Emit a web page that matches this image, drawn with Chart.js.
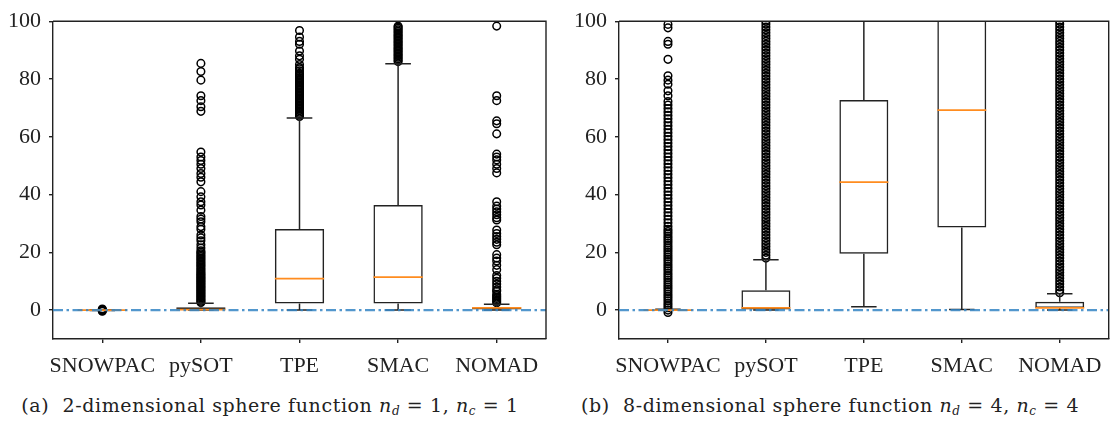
<!DOCTYPE html>
<html><head><meta charset="utf-8">
<script src="https://cdn.jsdelivr.net/npm/chart.js@4.4.1/dist/chart.umd.min.js"></script>
<style>
body{margin:0;background:#fff;width:1114px;height:425px;position:relative;overflow:hidden;font-family:"Liberation Serif",serif;}
canvas{position:absolute;top:0;}
.cap{position:absolute;top:395px;font-family:"DejaVu Serif",serif;font-size:19px;line-height:20px;letter-spacing:0.6px;color:#222;white-space:nowrap;transform:translateX(-50%);}
.cap sub{font-size:12px;vertical-align:-3px;line-height:0;}
.pre{position:absolute;left:-999px;top:0;font-family:"Liberation Serif";font-size:22px;}
</style></head><body>
<span class="pre">SNOWPAC 100</span>
<canvas id="ca" width="556" height="380" style="left:0"></canvas>
<canvas id="cb" width="548" height="380" style="left:566px"></canvas>
<div class="cap" style="left:270px">(a)&nbsp; 2-dimensional sphere function <i>n<sub>d</sub></i> = 1, <i>n<sub>c</sub></i> = 1</div>
<div class="cap" style="left:830px">(b)&nbsp; 8-dimensional sphere function <i>n<sub>d</sub></i> = 4, <i>n<sub>c</sub></i> = 4</div>
<script>
const categories = ['SNOWPAC', 'pySOT', 'TPE', 'SMAC', 'NOMAD'];
const yTicks = [0, 20, 40, 60, 80, 100];
const yMin = -10, yMax = 100;
const referenceLine = 0;

// (a) 2-dimensional sphere function
const aQ1 = [-0.1, 0, 2.3, 2.3, 0];
const aQ3 = [0.1, 1.0, 28.1, 36.4, 0.9];
const aMedian = [0, 0.2, 10.9, 11.4, 0.8];
const aWhiskLo = [-0.1, 0, 0, 0, 0];
const aWhiskHi = [0.1, 2.4, 66.5, 85.3, 2.0];
const aOutSNOWPAC = [-0.4, -0.2, 0, 0.2, 0.4];
const aOutPySOT = [2.6,3,3.4,3.8,4.2,4.6,5,5.4,5.8,6.2,6.6,7,7.4,7.8,8.2,8.6,9,9.4,9.8,10.2,10.6,11,11.4,11.8,12.2,12.6,13,13.5,14,14.5,15,15.5,16,16.5,17,17.5,18,18.5,19,19.5,20,20.5,21.5,22.6,24,25,26,28,28.9,30.6,31.5,32.4,34.6,36.4,37.5,39.2,41,44.4,46,47.3,49,50.5,51.8,53,54.7,68.8,70.4,72.5,74.2,79.6,82.6,85.4];
const aOutTPE = [67,67.5,68,68.5,69,69.5,70,70.5,71,71.5,72,72.5,73,73.5,74,74.5,75,75.5,76,76.5,77,77.5,78,78.5,79,79.5,80,80.5,81,81.5,82,82.8,83.5,84,85,86.8,88,89.7,92,93,94.5,96.8];
const aOutSMAC = [86,86.5,87,87.5,88,88.5,89,89.5,90,90.5,91,91.5,92,92.5,93,93.5,94,94.5,95,95.5,96,96.5,97,97.5,98,98.3];
const aOutNOMAD = [2.5,3,3.5,4,4.5,5,5.5,6.5,7,8,9,10,11,12,14,15.5,17,18,19.2,22.6,23.5,24.5,25.5,26.5,27.7,31.2,32,33,34,35,36,37.5,47.5,49,50.5,52,53,54,61,64.5,65.5,72.5,74.2,98.3];

// (b) 8-dimensional sphere function
const bQ1 = [0, 0, 19.5, 28.6, 0.7];
const bQ3 = [0.3, 6.9, 72.7, 130, 2.9];
const bMedian = [0, 0.8, 44.3, 69.2, 0.8];
const bWhiskLo = [0, 0, 1.2, 0.2, 0];
const bWhiskHi = [0.3, 17.4, 140, 200, 5.7];
const bOutSNOWPAC = [-0.8,0,0.8,1.6,2.4,3.2,4,4.8,5.6,6.4,7.2,8,8.8,9.6,10.4,11.2,12,12.8,13.6,14.4,15.2,16,16.8,17.6,18.4,19.2,20,20.8,21.6,22.4,23.2,24,24.8,25.6,26.4,27.2,28,29,30.2,31.4,32.6,33.8,35,36.2,37.4,38.6,39.8,41,42.2,43.4,44.6,45.8,47,48.2,49.4,50.6,51.8,53,54.2,55.4,56.6,57.8,59,60.2,61.4,62.6,63.8,65,66.2,67.4,68.6,69.8,71,72.2,74.2,75.9,78.2,79.6,81.1,86.8,92,93,97.7,98.9];
const bOutPySOT = [18,19,20,21,22,23,24,25,26,27,28,29,30,31,32,33,34,35,36,37,38,39,40,41,42,43,44,45,46,47,48,49,50,51,52,53,54,55,56,57,58,59,60,61,62,63,64,65,66,67,68,69,70,71,72,73,74,75,76,77,78,79,80,81,82,83,84,85,86,87,88,89,90,91,92,93,94,95,96,97,98,99,100];
const bOutTPE = [];
const bOutSMAC = [];
const bOutNOMAD = [6,7,8,9,10,11,12,13,14,15,16,17,18,19,20,21,22,23,24,25,26,27,28,29,30,31,32,33,34,35,36,37,38,39,40,41,42,43,44,45,46,47,48,49,50,51,52,53,54,55,56,57,58,59,60,61,62,63,64,65,66,67,68,69,70,71,72,73,74,75,76,77,78,79,80,81,82,83,84,85,86,87,88,89,90,91,92,93,94,95,96,97,98,99,100];

const INK = '#222';
Chart.defaults.font.family = '"Liberation Serif", serif';
Chart.defaults.font.size = 22;
Chart.defaults.color = INK;

const boxPlugin = {
  id: 'boxExtras',
  afterDatasetsDraw(chart, args, o) {
    const {ctx, chartArea: a, scales: {x, y}} = chart;
    const cw = x.getPixelForValue(1) - x.getPixelForValue(0);
    const seg = (x1, y1, x2, y2) => { ctx.beginPath(); ctx.moveTo(x1, y1); ctx.lineTo(x2, y2); ctx.stroke(); };
    ctx.save();
    ctx.beginPath(); ctx.rect(a.left, a.top, a.right - a.left, a.bottom - a.top); ctx.clip();
    ctx.strokeStyle = INK; ctx.lineWidth = 1.5;
    o.q1.forEach((q, i) => {
      const cx = x.getPixelForValue(i);
      const pLo = y.getPixelForValue(o.lo[i]), pHi = y.getPixelForValue(o.hi[i]);
      seg(cx, pLo, cx, y.getPixelForValue(q));
      seg(cx, y.getPixelForValue(o.q3[i]), cx, pHi);
      seg(cx - cw * 0.13, pLo, cx + cw * 0.13, pLo);
      seg(cx - cw * 0.13, pHi, cx + cw * 0.13, pHi);
    });
    ctx.strokeStyle = '#ff8c1f'; ctx.lineWidth = 1.8;
    o.med.forEach((m, i) => {
      const cx = x.getPixelForValue(i), py = y.getPixelForValue(m);
      seg(cx - cw * 0.25, py, cx + cw * 0.25, py);
    });
    ctx.strokeStyle = 'rgba(52,133,196,0.85)'; ctx.lineWidth = 2.3;
    ctx.setLineDash([10, 3.5, 2.5, 3.5]);
    const pr = y.getPixelForValue(referenceLine);
    seg(a.left, pr, a.right, pr);
    ctx.restore();
    ctx.save();
    ctx.strokeStyle = INK; ctx.lineWidth = 1.4;
    ctx.beginPath(); ctx.moveTo(a.left, a.top); ctx.lineTo(a.right, a.top); ctx.lineTo(a.right, a.bottom); ctx.stroke();
    ctx.restore();
  }
};

function makeChart(id, q1, q3, med, lo, hi, outs, padRight) {
  const outData = [];
  outs.forEach((arr, i) => arr.forEach(v => outData.push({x: categories[i], y: v})));
  return new Chart(document.getElementById(id), {
    type: 'bar',
    data: {
      labels: categories,
      datasets: [
        {
          type: 'line', data: outData, showLine: false,
          pointRadius: 3.8, pointHoverRadius: 3.8, pointBorderWidth: 1.5,
          pointBorderColor: '#000', pointBackgroundColor: 'rgba(0,0,0,0)'
        },
        {
          type: 'bar', data: categories.map((c, i) => [q1[i], q3[i]]),
          backgroundColor: 'rgba(0,0,0,0)', borderColor: INK, borderWidth: 1.5,
          borderSkipped: false, barPercentage: 0.5, categoryPercentage: 1.0
        }
      ]
    },
    options: {
      responsive: false, animation: false,
      layout: {padding: {left: 0, right: padRight, top: 20, bottom: 0}},
      plugins: {legend: {display: false}, tooltip: {enabled: false},
        boxExtras: {q1, q3, med, lo, hi}},
      scales: {
        x: {
          offset: true,
          grid: {display: true, drawOnChartArea: false, drawTicks: true, tickLength: 4, offset: false, color: INK, lineWidth: 1.4},
          border: {display: true, color: INK, width: 1.4},
          ticks: {padding: 10, maxRotation: 0, autoSkip: false},
          afterFit: s => { s.height = 41; }
        },
        y: {
          min: yMin, max: yMax,
          afterBuildTicks: s => { s.ticks = yTicks.map(v => ({value: v})); },
          grid: {display: true, drawOnChartArea: false, drawTicks: true, tickLength: 4, color: INK, lineWidth: 1.4},
          border: {display: true, color: INK, width: 1.4},
          ticks: {padding: 8},
          afterFit: s => { s.width = 53; }
        }
      }
    },
    plugins: [boxPlugin]
  });
}

function build() {
  makeChart('ca', aQ1, aQ3, aMedian, aWhiskLo, aWhiskHi, [aOutSNOWPAC, aOutPySOT, aOutTPE, aOutSMAC, aOutNOMAD], 10);
  makeChart('cb', bQ1, bQ3, bMedian, bWhiskLo, bWhiskHi, [bOutSNOWPAC, bOutPySOT, bOutTPE, bOutSMAC, bOutNOMAD], 2);
}
if (document.fonts && document.fonts.load) {
  document.fonts.load('22px "Liberation Serif"').then(build, build);
} else { build(); }
</script>
</body></html>
